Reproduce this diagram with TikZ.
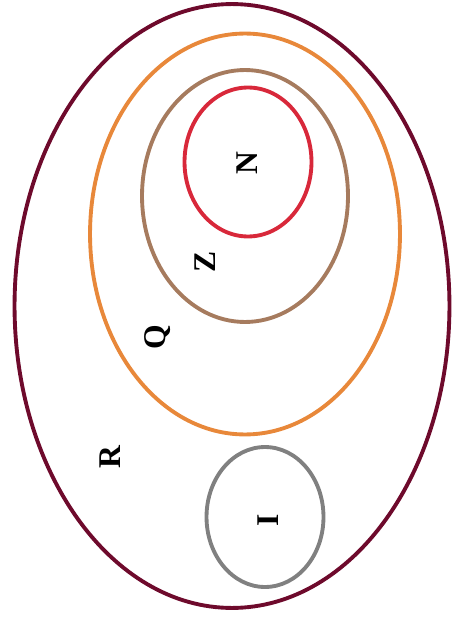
\documentclass[tikz,border=0pt]{standalone}
\usepackage{fontspec}
\setmainfont{Liberation Serif}
\usetikzlibrary{shapes.geometric, positioning}
\definecolor{setR}{HTML}{6E0A2C}
\definecolor{setQ}{HTML}{E8883A}
\definecolor{setZ}{HTML}{A67B5E}
\definecolor{setN}{HTML}{D8283A}
\definecolor{setI}{HTML}{808080}

\begin{document}
\begin{tikzpicture}[
    x=0.02cm, y=-0.02cm,
    set/.style={ellipse, draw=#1, line width=2.2pt, inner sep=0pt},
    lab/.style={font=\fontsize{18}{21}\selectfont\bfseries, rotate=90,
                inner sep=0pt}
]
\useasboundingbox (0,0) rectangle (453,628);

% Sets
\node[set=setR, minimum width=8.70cm, minimum height=12.08cm] (reals) at (232,306) {};
\node[set=setQ, minimum width=6.20cm, minimum height=8.02cm] (rationals) at (245,234) {};
\node[set=setZ, minimum width=4.12cm, minimum height=5.04cm] (integers) at (245,196) {};
\node[set=setN, minimum width=2.54cm, minimum height=2.98cm] (naturals) at (248,162) {};
\node[set=setI, minimum width=2.34cm, minimum height=2.80cm] (irrationals) at (265,517) {};

% Labels
\node[lab] (labN) at (247,163) {N};
\node[lab] (labZ) at (205,262) {Z};
\node[lab] (labQ) at (158,337) {Q};
\node[lab] (labR) at (110,457) {R};
\node[lab] (labI) at (268,520) {I};

\end{tikzpicture}
\end{document}
